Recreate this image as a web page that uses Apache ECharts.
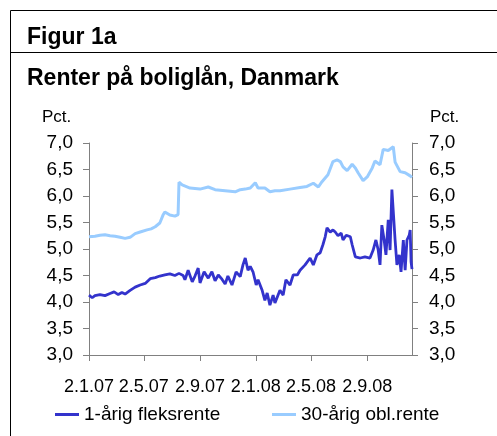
<!DOCTYPE html>
<html>
<head>
<meta charset="utf-8">
<script src="https://cdn.jsdelivr.net/npm/echarts@6/dist/echarts.min.js"></script>
<style>
  html, body { margin: 0; padding: 0; background: #fff; }
  #chart { width: 497px; height: 436px; }
</style>
</head>
<body>
<div id="chart"></div>
<script>
  // 1-årig fleksrente
  var fleksDates = ['2007-01-02','2007-01-09','2007-01-15','2007-01-26','2007-02-06','2007-02-17','2007-02-26','2007-03-07','2007-03-15','2007-03-22',
    '2007-04-02','2007-04-13','2007-04-24','2007-05-05','2007-05-16','2007-05-27','2007-06-06','2007-06-17','2007-06-28','2007-07-09',
    '2007-07-18','2007-07-27','2007-07-31','2007-08-07','2007-08-16','2007-08-22','2007-08-29','2007-09-02','2007-09-11','2007-09-20',
    '2007-09-28','2007-10-05','2007-10-12','2007-10-20','2007-10-27','2007-11-02','2007-11-11','2007-11-20','2007-11-29','2007-12-05',
    '2007-12-10','2007-12-16','2007-12-21','2007-12-27','2008-01-03','2008-01-07','2008-01-16','2008-01-22','2008-01-27','2008-02-02',
    '2008-02-09','2008-02-13','2008-02-24','2008-03-02','2008-03-08','2008-03-17','2008-03-24','2008-04-02','2008-04-08','2008-04-19',
    '2008-04-30','2008-05-07','2008-05-15','2008-05-22','2008-05-28','2008-06-02','2008-06-06','2008-06-13','2008-06-19','2008-06-24',
    '2008-06-30','2008-07-07','2008-07-11','2008-07-18','2008-07-27','2008-07-31','2008-08-07','2008-08-18','2008-08-28','2008-09-08',
    '2008-09-15','2008-09-21','2008-09-26','2008-09-30','2008-10-04','2008-10-09','2008-10-13','2008-10-18','2008-10-22','2008-10-26',
    '2008-10-29','2008-11-02','2008-11-06','2008-11-11','2008-11-15','2008-11-20','2008-11-24','2008-11-28','2008-12-03','2008-12-05',
    '2008-12-07','2008-12-09'];
  var fleksValues = [4.13,4.08,4.12,4.14,4.12,4.16,4.19,4.14,4.18,4.15,
    4.22,4.28,4.32,4.35,4.44,4.46,4.49,4.51,4.53,4.50,
    4.54,4.50,4.42,4.60,4.38,4.49,4.64,4.36,4.57,4.45,
    4.57,4.40,4.51,4.43,4.34,4.49,4.32,4.57,4.48,4.70,
    4.83,4.60,4.67,4.57,4.32,4.42,4.22,4.03,4.17,3.94,
    4.13,3.98,4.22,4.13,4.42,4.32,4.51,4.51,4.60,4.70,
    4.83,4.70,4.89,4.93,5.08,5.23,5.40,5.32,5.36,5.32,
    5.25,5.30,5.17,5.26,5.23,5.08,4.85,4.83,4.85,4.83,
    4.98,5.17,4.98,4.70,5.45,5.17,4.89,5.55,4.98,6.12,
    6.14,5.17,4.70,4.89,4.57,5.17,4.60,5.17,5.26,5.36,
    4.76,4.62];

  // 30-årig obl.rente
  var oblDates = ['2007-01-02','2007-01-15','2007-01-26','2007-02-06','2007-02-17','2007-02-28','2007-03-11','2007-03-22','2007-04-02','2007-04-13',
    '2007-04-24','2007-05-09','2007-05-18','2007-05-27','2007-06-06','2007-06-13','2007-06-17','2007-06-28','2007-07-09','2007-07-16',
    '2007-07-18','2007-07-25','2007-08-11','2007-09-02','2007-09-20','2007-10-05','2007-10-27','2007-11-18','2007-11-29','2007-12-10',
    '2007-12-21','2008-01-01','2008-01-07','2008-01-22','2008-02-02','2008-02-13','2008-02-24','2008-03-17','2008-04-08','2008-04-23',
    '2008-05-07','2008-05-18','2008-05-26','2008-06-08','2008-06-19','2008-06-28','2008-07-05','2008-07-11','2008-07-20','2008-07-31',
    '2008-08-07','2008-08-13','2008-08-24','2008-09-02','2008-09-13','2008-09-19','2008-09-30','2008-10-07','2008-10-18','2008-10-29',
    '2008-11-02','2008-11-13','2008-11-24','2008-12-05','2008-12-09'];
  var oblValues = [5.23,5.24,5.26,5.27,5.25,5.24,5.22,5.20,5.22,5.29,
    5.32,5.36,5.38,5.42,5.49,5.64,5.70,5.64,5.62,5.65,
    6.26,6.21,6.15,6.13,6.17,6.12,6.10,6.08,6.12,6.13,
    6.15,6.25,6.15,6.15,6.08,6.10,6.10,6.13,6.16,6.18,
    6.24,6.17,6.27,6.40,6.65,6.68,6.65,6.55,6.48,6.60,
    6.53,6.44,6.29,6.36,6.53,6.66,6.59,6.88,6.86,6.93,
    6.64,6.46,6.44,6.38,6.35];

  var tickDates = ['2007-01-02','2007-05-02','2007-09-02','2008-01-02','2008-05-02','2008-09-02'];
  var tickLabels = ['2.1.07','2.5.07','2.9.07','2.1.08','2.5.08','2.9.08'];
  var seriesNames = ['1-årig fleksrente', '30-årig obl.rente'];

  // dato -> tidsstempel (lokal tid)
  function toTs(s) {
    var p = s.split('-');
    return new Date(+p[0], +p[1] - 1, +p[2]).getTime();
  }
  function pairs(dates, values) {
    return dates.map(function (d, i) { return [toTs(d), values[i]]; });
  }

  var tickTs = tickDates.map(toTs);
  var font = 'Liberation Sans, Arial, sans-serif';
  var yLabel = function (v) { return v.toFixed(1).replace('.', ','); };

  var yAxisBase = {
    type: 'value',
    min: 3,
    max: 7,
    interval: 0.5,
    axisLine: { show: true, lineStyle: { color: '#808080', width: 1 } },
    axisTick: { show: true, length: 6, lineStyle: { color: '#808080' } },
    splitLine: { show: false },
    axisLabel: { color: '#000', fontFamily: font, fontSize: 19, margin: 16, formatter: yLabel }
  };

  var myChart = echarts.init(document.getElementById('chart'));
  var option = {
    backgroundColor: '#fff',
    animation: false,
    textStyle: { fontFamily: font },
    graphic: [
      { type: 'line', shape: { x1: 10.5, y1: 10.5, x2: 497, y2: 10.5 }, style: { stroke: '#000', lineWidth: 1 } },
      { type: 'line', shape: { x1: 10.5, y1: 52.5, x2: 497, y2: 52.5 }, style: { stroke: '#000', lineWidth: 1 } },
      { type: 'line', shape: { x1: 10.5, y1: 10.5, x2: 10.5, y2: 436 }, style: { stroke: '#000', lineWidth: 1 } },
      { type: 'text', left: 42, top: 109, style: { text: 'Pct.', fill: '#000', font: '17px ' + font } },
      { type: 'text', left: 430, top: 109, style: { text: 'Pct.', fill: '#000', font: '17px ' + font } }
    ],
    title: [
      { text: 'Figur 1a', left: 27, top: 26, padding: 0, textStyle: { fontFamily: font, fontSize: 23, fontWeight: 'bold', color: '#000' } },
      { text: 'Renter på boliglån, Danmark', left: 27, top: 67, padding: 0, textStyle: { fontFamily: font, fontSize: 23, fontWeight: 'bold', color: '#000' } }
    ],
    legend: [
      {
        data: [seriesNames[0]], left: 55, top: 405, icon: 'rect', itemWidth: 24, itemHeight: 3, itemGap: 5,
        padding: 0, textStyle: { fontFamily: font, fontSize: 19, color: '#000' }
      },
      {
        data: [seriesNames[1]], left: 272, top: 405, icon: 'rect', itemWidth: 24, itemHeight: 3, itemGap: 5,
        padding: 0, textStyle: { fontFamily: font, fontSize: 19, color: '#000' }
      }
    ],
    grid: { left: 89, right: 85, top: 143, bottom: 81, containLabel: false },
    xAxis: {
      type: 'value',
      min: toTs('2007-01-02'),
      max: toTs('2008-12-09'),
      axisLine: { show: true, lineStyle: { color: '#808080', width: 1 } },
      axisTick: { show: true, length: 6, customValues: tickTs, lineStyle: { color: '#808080' } },
      splitLine: { show: false },
      axisLabel: {
        customValues: tickTs,
        margin: 23,
        color: '#000',
        fontFamily: font,
        fontSize: 18,
        hideOverlap: false,
        formatter: function (v) {
          var i = tickTs.indexOf(v);
          return i >= 0 ? tickLabels[i] : '';
        }
      }
    },
    yAxis: [
      Object.assign({}, yAxisBase, { position: 'left' }),
      Object.assign({}, yAxisBase, { position: 'right', axisLabel: Object.assign({}, yAxisBase.axisLabel, { margin: 17 }) })
    ],
    series: [
      {
        name: seriesNames[0],
        type: 'line',
        yAxisIndex: 0,
        symbol: 'none',
        color: '#3333CC',
        lineStyle: { width: 2.8, color: '#3333CC' },
        data: pairs(fleksDates, fleksValues)
      },
      {
        name: seriesNames[1],
        type: 'line',
        yAxisIndex: 0,
        symbol: 'none',
        color: '#99CCFF',
        lineStyle: { width: 3, color: '#99CCFF' },
        data: pairs(oblDates, oblValues)
      }
    ]
  };
  myChart.setOption(option);
</script>
</body>
</html>
